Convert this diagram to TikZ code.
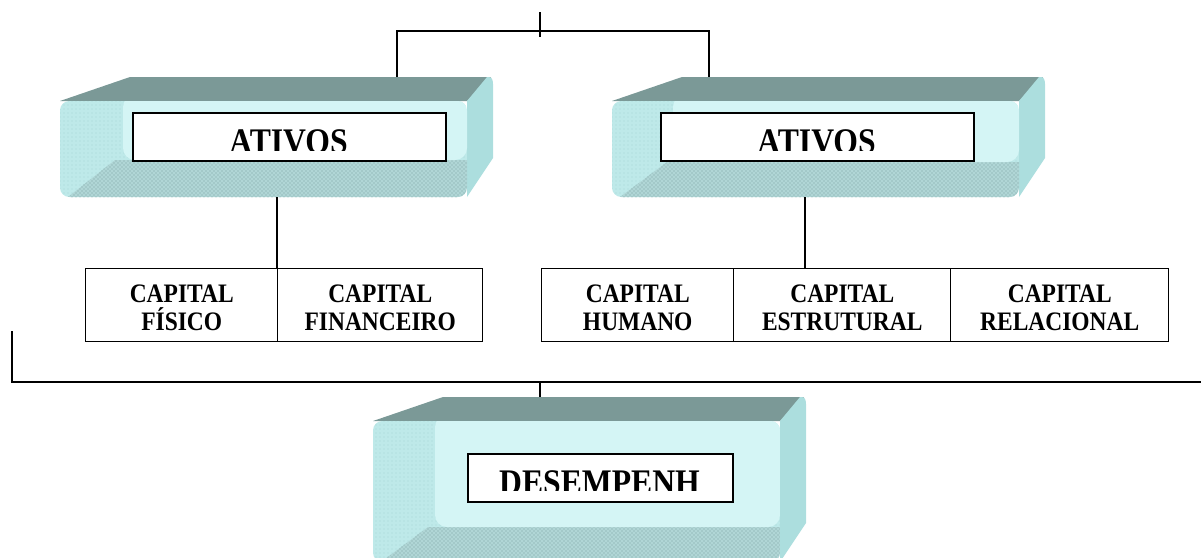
\documentclass[tikz,border=0pt]{standalone}
\usepackage{fontspec}
\setmainfont{Liberation Serif}
\newfontfamily\cellfont[FakeStretch=0.88]{Liberation Serif}
\usetikzlibrary{patterns}

\definecolor{slabtop}{RGB}{123,153,151}
\definecolor{slabside}{RGB}{172,222,222}
\definecolor{slabfront}{RGB}{190,233,233}
\definecolor{slabinner}{RGB}{212,245,245}
\definecolor{slabband}{RGB}{176,214,214}
\definecolor{slabdots}{RGB}{120,160,160}
\definecolor{slabgrain}{RGB}{166,212,212}

% A bevelled slab: #1 front-left x, #2 top y, #3 front-bottom y,
% #4 left x of the lighter panel, #5 bottom y of the lighter panel
\newcommand\slabshape[5]{%
  \fill[topface] (#1,#2+24) -- (#1+70,#2) -- (#1+431,#2) -- (#1+407,#2+24) -- cycle;
  \fill[sideface] (#1+407,#2+24) -- (#1+427,#2) -- (#1+429,#2)
        to[out=0,in=90] (#1+433,#2+7)
        -- (#1+433,#3-39) -- (#1+407,#3) -- cycle;
  \begin{scope}
    \clip[rounded corners=7] (#1,#2+24) rectangle (#1+407,#3);
    \fill[frontface] (#1,#2+24) rectangle (#1+407,#3);
    \fill[pattern=dots, pattern color=slabgrain] (#1,#2+24) rectangle (#1+407,#3);
    \fill[bandface] (#1+55,#5) -- (#1+407,#5) -- (#1+407,#3) -- (#1+8,#3) -- cycle;
    \fill[pattern=crosshatch dots, pattern color=slabdots]
        (#1+55,#5) -- (#1+407,#5) -- (#1+407,#3) -- (#1+8,#3) -- cycle;
    \fill[innerface, rounded corners=9] (#4,#2+18) rectangle (#1+407,#5);
  \end{scope}}

\begin{document}
\begin{tikzpicture}[x=0.75pt, y=-0.75pt,
    topface/.style={fill=slabtop},
    sideface/.style={fill=slabside},
    frontface/.style={fill=slabfront},
    innerface/.style={fill=slabinner},
    bandface/.style={fill=slabband},
    wire/.style={draw=black, line width=1.2pt},
    titlebox/.style={draw=black, line width=1.4pt, fill=white, inner sep=0pt,
        anchor=north west},
    titletext/.style={anchor=base, inner sep=0pt,
        font=\cellfont\bfseries\fontsize{27pt}{27pt}\selectfont},
    cellbox/.style={draw=black, line width=1.1pt, fill=white, inner sep=0pt,
        anchor=north west, minimum height=73*0.75pt},
    celltext/.style={align=center, inner sep=0pt,
        font=\cellfont\bfseries\fontsize{20pt}{21pt}\selectfont}]

\useasboundingbox (0,0) rectangle (1201,557);

% ---- slabs ----
\slabshape{60}{77}{197}{123}{160}
\slabshape{612}{77}{197}{673}{162}
\slabshape{373}{397}{562}{435}{527}

% ---- title panels ----
\node[titlebox, minimum width=313*0.75pt, minimum height=48*0.75pt] (assetsA) at (132,112) {};
\node[titlebox, minimum width=313*0.75pt, minimum height=48*0.75pt] (assetsB) at (660,112) {};
\node[titlebox, minimum width=265*0.75pt, minimum height=48*0.75pt] (perform) at (467,453) {};

\begin{scope}
  \clip (133,113) rectangle (444,150);
  \node[titletext] (assetsAtext) at (288.5,153) {ATIVOS};
\end{scope}
\begin{scope}
  \clip (661,113) rectangle (972,150);
  \node[titletext] (assetsBtext) at (816.5,153) {ATIVOS};
\end{scope}
\begin{scope}
  \clip (468,454) rectangle (731,490);
  \node[titletext] (performtext) at (599.5,494) {DESEMPENH};
\end{scope}

% ---- capital cells ----
\node[cellbox, minimum width=192*0.75pt] (phys) at (85,268) {};
\node[cellbox, minimum width=205*0.75pt] (fin)  at (277,268) {};
\node[cellbox, minimum width=192*0.75pt] (hum)  at (541,268) {};
\node[cellbox, minimum width=217*0.75pt] (estr) at (733,268) {};
\node[cellbox, minimum width=218*0.75pt] (rel)  at (950,268) {};

\node[celltext, yshift=-2pt] (physT) at (phys.center) {CAPITAL\\FÍSICO};
\node[celltext, yshift=-2pt] (finT)  at (fin.center)  {CAPITAL\\FINANCEIRO};
\node[celltext, yshift=-2pt] (humT)  at (hum.center)  {CAPITAL\\HUMANO};
\node[celltext, yshift=-2pt] (estrT) at (estr.center) {CAPITAL\\ESTRUTURAL};
\node[celltext, yshift=-2pt] (relT)  at (rel.center)  {CAPITAL\\RELACIONAL};

% ---- connection points ----
\coordinate (stem)    at (540,12);
\coordinate (bar)     at (540,31);
\coordinate (slabAtop) at (397,77);
\coordinate (slabBtop) at (709,77);
\coordinate (slabAbot) at (277,197);
\coordinate (slabBbot) at (805,197);
\coordinate (railL)   at (12,331);
\coordinate (railR)   at (1201,382);
\coordinate (rail)    at (540,382);
\coordinate (slabCtop) at (540,397);

% ---- connectors ----
\draw[wire] (stem) -- ++(0,25);
\draw[wire] (slabAtop) -- (slabAtop |- bar) -- (slabBtop |- bar) -- (slabBtop);
\draw[wire] (slabAbot) -- (slabAbot |- phys.north);
\draw[wire] (slabBbot) -- (slabBbot |- estr.north);
\draw[wire] (railL) |- (railR);
\draw[wire] (rail) -- (slabCtop);

\end{tikzpicture}
\end{document}
